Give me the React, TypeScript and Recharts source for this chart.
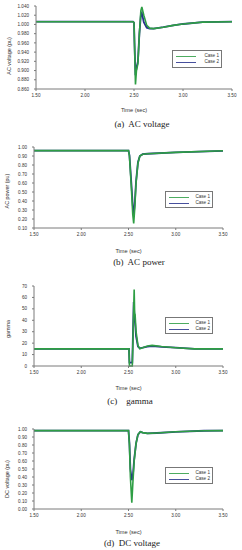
import { LineChart, Line, XAxis, YAxis, Legend } from "recharts"

// shared x axis (seconds)
const timeTicks = [1.5, 2.0, 2.5, 3.0, 3.5]

// (a) AC voltage
const acVoltTime = [1.5, 2.0, 2.49, 2.5, 2.505, 2.515, 2.525, 2.54, 2.555, 2.57, 2.58, 2.6, 2.63, 2.66, 2.7, 2.8, 2.9, 3.0, 3.2, 3.5]
const acVoltCase1 = [1.006, 1.006, 1.006, 1.004, 0.96, 0.87, 0.9, 0.915, 0.98, 1.03, 1.038, 1.02, 0.998, 0.992, 0.991, 0.994, 0.998, 1.001, 1.005, 1.006]
const acVoltCase2 = [1.006, 1.006, 1.006, 1.004, 0.96, 0.89, 0.905, 0.92, 0.98, 1.02, 1.025, 1.005, 0.993, 0.991, 0.991, 0.994, 0.998, 1.001, 1.005, 1.006]
const acVoltTicks = [0.86, 0.88, 0.9, 0.92, 0.94, 0.96, 0.98, 1.0, 1.02, 1.04]

// (b) AC power
const acPowerTime = [1.5, 2.0, 2.5, 2.51, 2.53, 2.545, 2.555, 2.565, 2.58, 2.6, 2.62, 2.65, 2.7, 3.0, 3.5]
const acPowerCase1 = [0.96, 0.96, 0.96, 0.9, 0.55, 0.25, 0.15, 0.3, 0.6, 0.82, 0.9, 0.92, 0.925, 0.94, 0.958]
const acPowerCase2 = [0.96, 0.96, 0.96, 0.91, 0.6, 0.35, 0.25, 0.35, 0.62, 0.83, 0.9, 0.92, 0.925, 0.94, 0.958]
const acPowerTicks = [0.1, 0.2, 0.3, 0.4, 0.5, 0.6, 0.7, 0.8, 0.9, 1.0]

// (c) gamma
const gammaTime = [1.5, 2.0, 2.505, 2.51, 2.54, 2.545, 2.555, 2.56, 2.565, 2.57, 2.58, 2.6, 2.62, 2.65, 2.7, 2.75, 2.85, 3.0, 3.2, 3.5]
const gammaCase1 = [15, 15, 15, 0, 0, 15, 50, 67, 46, 45, 30, 18, 15, 16, 17.5, 18, 17, 16, 15, 15]
const gammaCase2 = [15, 15, 15, 3, 3, 20, 56, 48, 42, 38, 26, 17, 15.5, 16, 17, 17.5, 16.8, 16, 15, 15]
const gammaTicks = [0, 10, 20, 30, 40, 50, 60, 70]

// (d) DC voltage
const dcVoltTime = [1.5, 2.0, 2.5, 2.51, 2.52, 2.535, 2.545, 2.56, 2.58, 2.6, 2.625, 2.65, 2.7, 2.8, 3.0, 3.3, 3.5]
const dcVoltCase1 = [0.98, 0.98, 0.98, 0.8, 0.4, 0.08, 0.3, 0.6, 0.82, 0.93, 0.965, 0.955, 0.945, 0.95, 0.965, 0.978, 0.98]
const dcVoltCase2 = [0.98, 0.98, 0.98, 0.82, 0.5, 0.36, 0.4, 0.62, 0.82, 0.93, 0.965, 0.955, 0.945, 0.95, 0.965, 0.978, 0.98]
const dcVoltTicks = [0, 0.1, 0.2, 0.3, 0.4, 0.5, 0.6, 0.7, 0.8, 0.9, 1.0]

const green = "#2e9e44"
const navy = "#27318c"
const axisGray = "#7a7a7a"
const sans = "'Liberation Sans', Arial, sans-serif"
const serif = "'Liberation Serif', 'Times New Roman', serif"

const rows = (t: number[], a: number[], b: number[]) =>
    t.map((x, i) => ({ t: x, c1: a[i], c2: b[i] }))

const CaseLegend = () => (
    <div style={{ width: "100%", height: "100%", boxSizing: "border-box", border: "1px solid #777", background: "#fff", padding: "2px 2px 0 3px" }}>
        {[
            { name: "Case 1", color: green },
            { name: "Case 2", color: navy }
        ].map(item => (
            <div key={item.name} style={{ display: "flex", alignItems: "center", height: 6.5 }}>
                <div style={{ width: 20, height: 1.2, background: item.color, opacity: 0.85 }} />
                <div style={{ flex: 1, textAlign: "right", fontFamily: sans, fontSize: 4.6, color: "#333", lineHeight: 1 }}>{item.name}</div>
            </div>
        ))}
    </div>
)

type PanelProps = {
    top: number
    data: any[]
    yTicks: number[]
    digits: number
    yLabel: string
    yLabelX: number
    yLabelY: number
    caption: string
    captionY: number
    captionX: number
    plotLeft: number
    plotRight: number
    plotH: number
    timeGap: number
    legend: { left: number, top: number, width: number, height: number }
}

function Panel(p: PanelProps) {
    const xAxisH = 28
    const height = 6 + p.plotH + xAxisH
    const tickStyle = { fontSize: 4.6, fill: "#333", fontFamily: sans }
    return (
        <>
            <div style={{ position: "absolute", left: 0, top: p.top }}>
                <LineChart
                    width={242}
                    height={height}
                    data={p.data}
                    margin={{ top: 6, right: 242 - p.plotRight, left: 0, bottom: 0 }}
                >
                    <XAxis
                        dataKey="t"
                        type="number"
                        domain={[1.5, 3.5]}
                        ticks={timeTicks}
                        interval={0}
                        tickFormatter={(v: number) => v.toFixed(2)}
                        tick={tickStyle}
                        tickSize={2}
                        tickMargin={3}
                        stroke={axisGray}
                        height={xAxisH}
                        label={{
                            value: "Time (sec)",
                            position: "insideBottom",
                            offset: xAxisH - (p.timeGap + 2),
                            style: { fontSize: 5.6, fill: "#333", fontFamily: sans }
                        }}
                    />
                    <YAxis
                        type="number"
                        domain={[p.yTicks[0], p.yTicks[p.yTicks.length - 1]]}
                        ticks={p.yTicks}
                        interval={0}
                        tickFormatter={(v: number) => v.toFixed(p.digits)}
                        tick={tickStyle}
                        tickSize={2}
                        tickMargin={5}
                        stroke={axisGray}
                        width={p.plotLeft}
                        label={{
                            content: () => (
                                <text
                                    x={p.yLabelX}
                                    y={p.yLabelY}
                                    transform={`rotate(-90 ${p.yLabelX} ${p.yLabelY})`}
                                    textAnchor="middle"
                                    dominantBaseline="middle"
                                    style={{ fontSize: 5.4, fill: "#333", fontFamily: sans }}
                                >
                                    {p.yLabel}
                                </text>
                            )
                        }}
                    />
                    <Legend
                        layout="horizontal"
                        verticalAlign="middle"
                        align="center"
                        content={() => <CaseLegend />}
                        wrapperStyle={{ left: p.legend.left, top: p.legend.top, width: p.legend.width, height: p.legend.height }}
                    />
                    <Line type="linear" dataKey="c2" name="Case 2" stroke={navy} strokeWidth={1.8} dot={false} isAnimationActive={false} />
                    <Line type="linear" dataKey="c1" name="Case 1" stroke={green} strokeWidth={1.6} dot={false} isAnimationActive={false} />
                </LineChart>
            </div>
            <div
                style={{
                    position: "absolute",
                    left: p.captionX - 60,
                    width: 120,
                    top: p.captionY - 6,
                    height: 12,
                    lineHeight: "12px",
                    textAlign: "center",
                    fontFamily: serif,
                    fontSize: 9,
                    color: "#222",
                    whiteSpace: "pre"
                }}
            >
                {p.caption}
            </div>
        </>
    )
}

export default function App() {
    return (
        <div style={{ position: "absolute", left: 0, top: 0, width: 242, height: 550, background: "#fff", overflow: "hidden" }}>
            <Panel
                top={0}
                data={rows(acVoltTime, acVoltCase1, acVoltCase2)}
                yTicks={acVoltTicks}
                digits={3}
                yLabel="AC voltage (pu)"
                yLabelX={10}
                yLabelY={56}
                caption="(a)  AC voltage"
                captionY={124}
                captionX={142}
                plotLeft={36}
                plotRight={232}
                plotH={83}
                timeGap={21}
                legend={{ left: 172, top: 50, width: 50, height: 18 }}
            />
            <Panel
                top={141}
                data={rows(acPowerTime, acPowerCase1, acPowerCase2)}
                yTicks={acPowerTicks}
                digits={2}
                yLabel="AC power (pu)"
                yLabelX={8}
                yLabelY={50}
                caption="(b)  AC power"
                captionY={262}
                captionX={139}
                plotLeft={34}
                plotRight={223}
                plotH={81}
                timeGap={23}
                legend={{ left: 165, top: 50, width: 48, height: 17 }}
            />
            <Panel
                top={280}
                data={rows(gammaTime, gammaCase1, gammaCase2)}
                yTicks={gammaTicks}
                digits={0}
                yLabel="gamma"
                yLabelX={9}
                yLabelY={49}
                caption="(c)    gamma"
                captionY={401}
                captionX={130}
                plotLeft={34}
                plotRight={223}
                plotH={80}
                timeGap={22}
                legend={{ left: 165, top: 37, width: 48, height: 17 }}
            />
            <Panel
                top={423}
                data={rows(dcVoltTime, dcVoltCase1, dcVoltCase2)}
                yTicks={dcVoltTicks}
                digits={2}
                yLabel="DC voltage (pu)"
                yLabelX={8}
                yLabelY={56}
                caption="(d)  DC voltage"
                captionY={543}
                captionX={132}
                plotLeft={34}
                plotRight={223}
                plotH={80}
                timeGap={23}
                legend={{ left: 165, top: 44, width: 48, height: 17 }}
            />
        </div>
    )
}
